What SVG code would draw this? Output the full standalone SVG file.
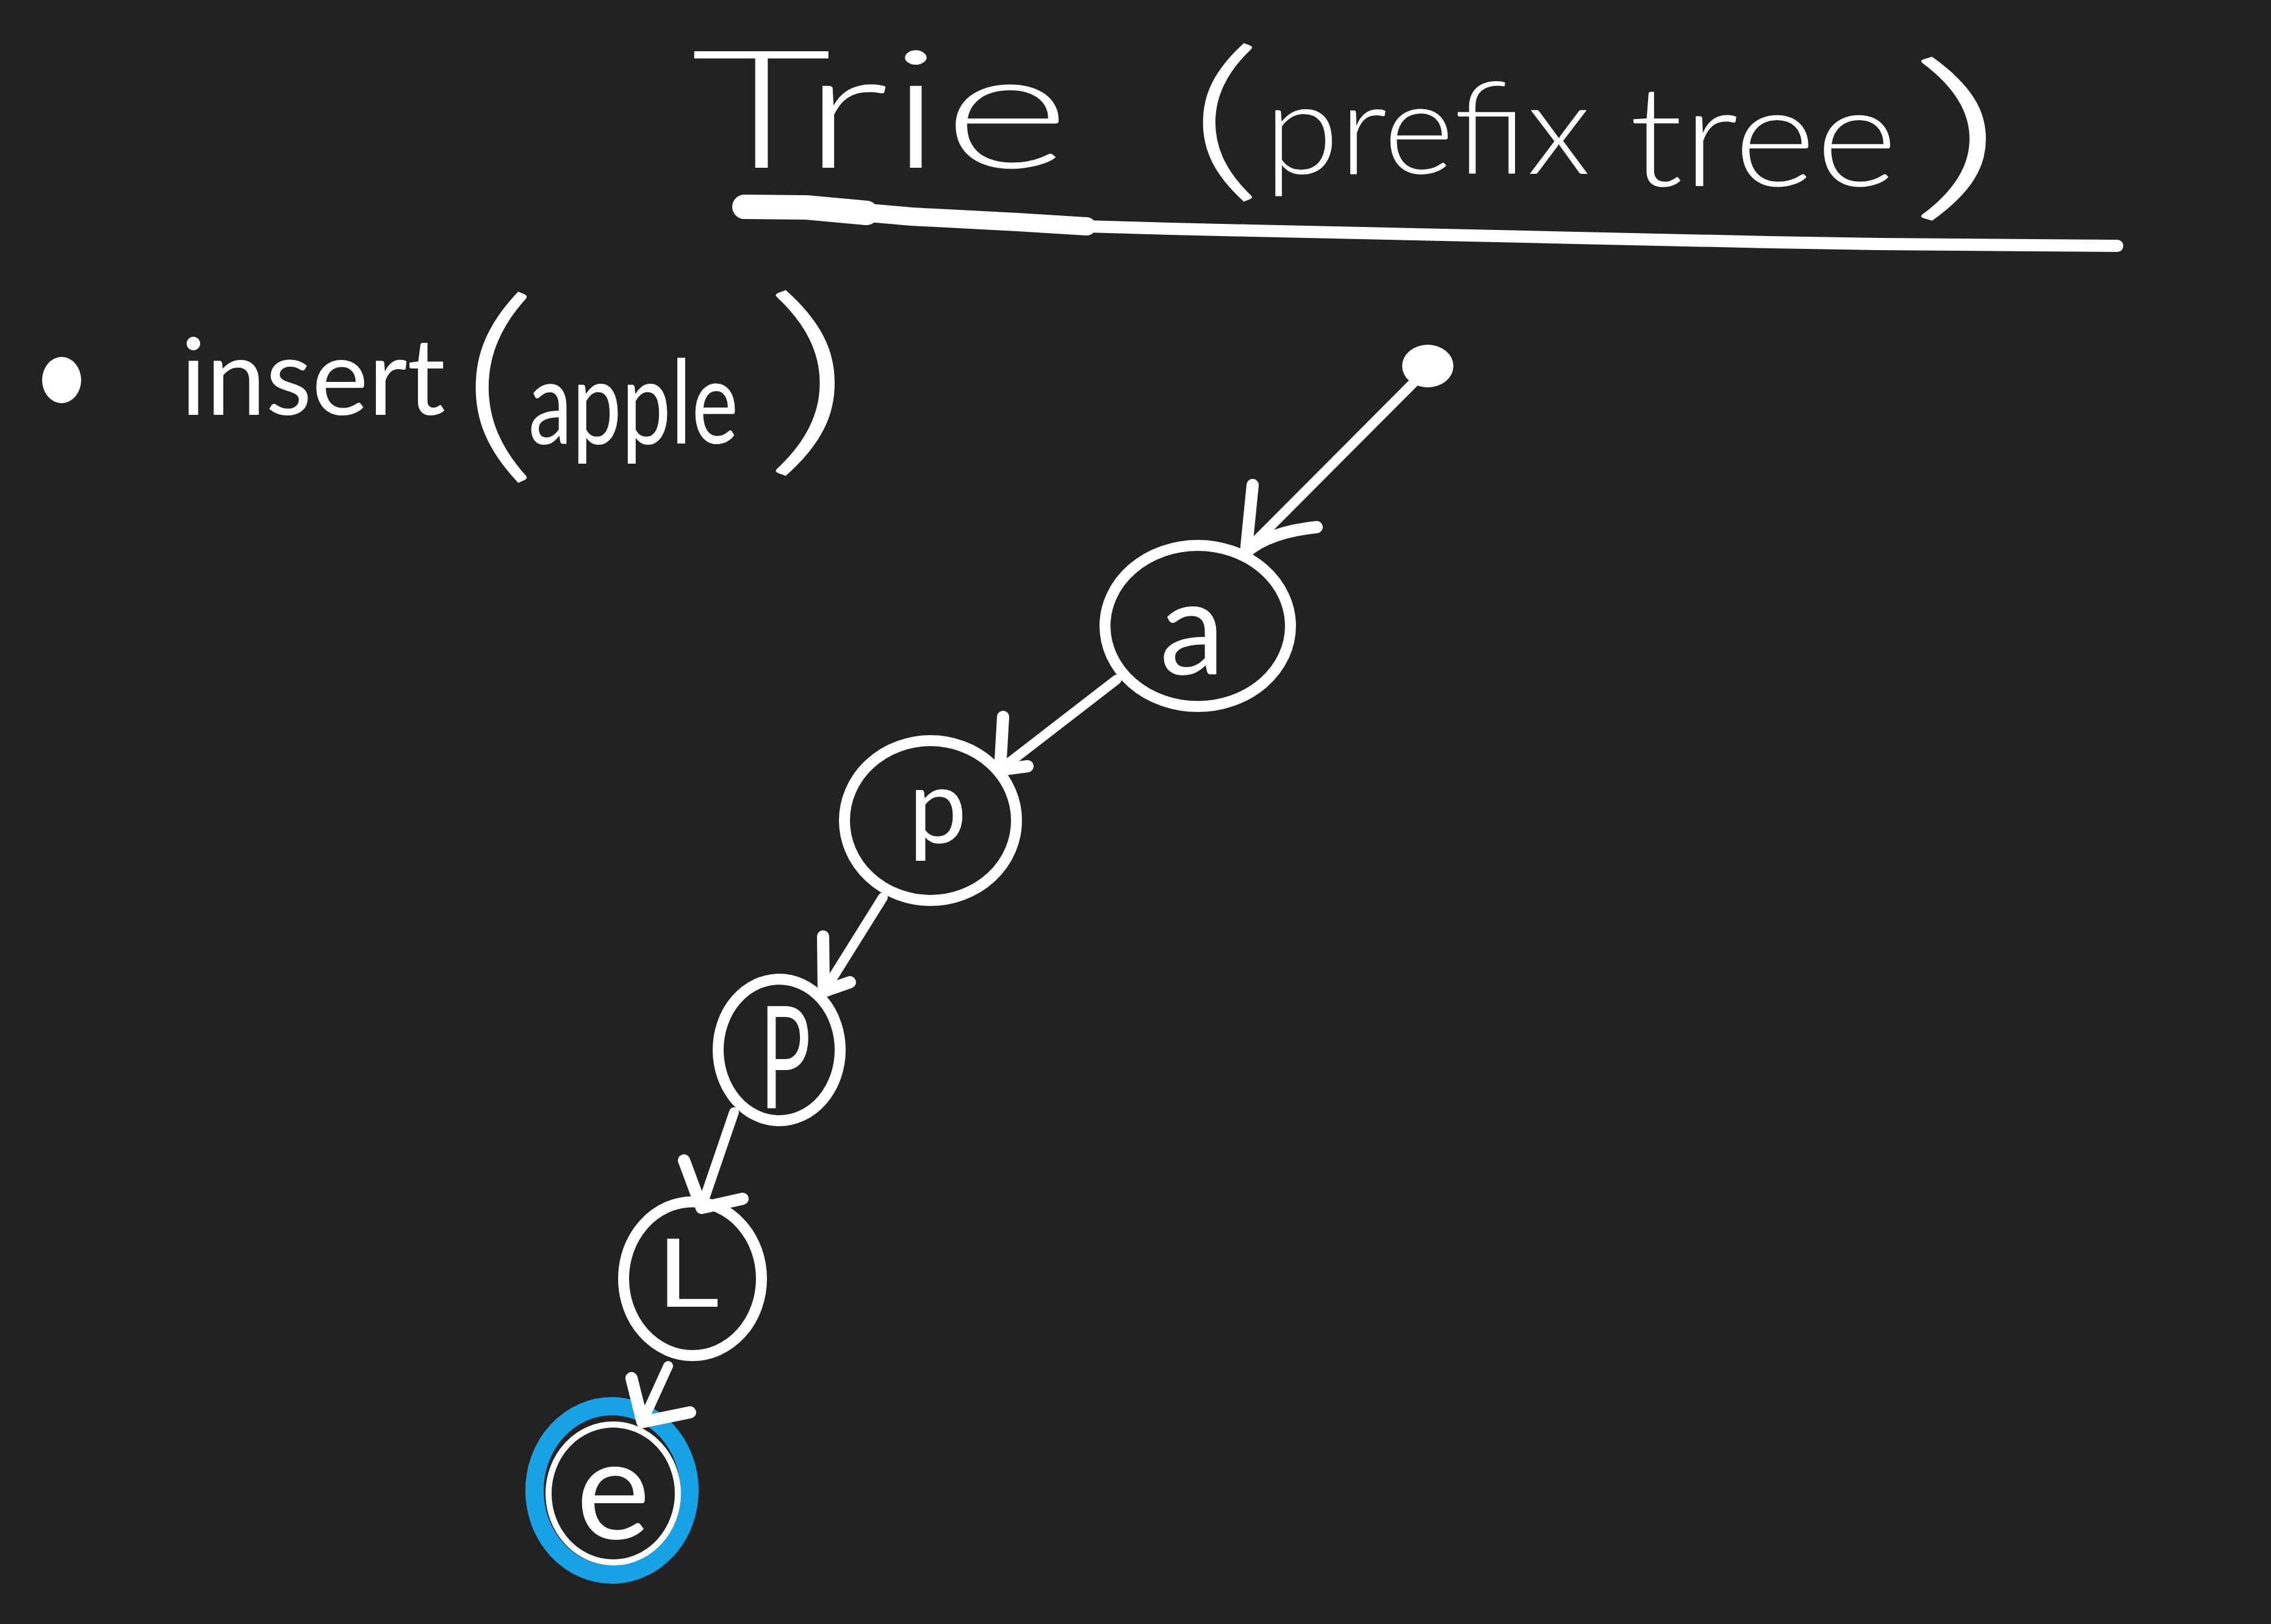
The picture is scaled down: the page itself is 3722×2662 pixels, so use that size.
<svg xmlns="http://www.w3.org/2000/svg" width="3722" height="2662" viewBox="0 0 3722 2662">
<style>
.bg{fill:#222222}
.hand{fill:#ffffff;font-family:Lato,"Liberation Sans","DejaVu Sans",sans-serif;font-weight:400}
.thin{font-weight:300}
.paren{font-weight:300}
.ring{fill:none;stroke:#ffffff;stroke-width:18}
.edge{fill:none;stroke:#ffffff;stroke-width:16;stroke-linecap:round;stroke-linejoin:round}
.head{fill:none;stroke:#ffffff;stroke-width:20;stroke-linecap:round;stroke-linejoin:round}
.uline{fill:none;stroke:#ffffff;stroke-linecap:round;stroke-linejoin:round}
.blue{fill:none;stroke:#17a2e6;stroke-width:30}
</style>
<rect class="bg" x="0" y="0" width="3722" height="2662"/>

<g id="title">
  <text class="hand thin" x="1132" y="275" font-size="270" textLength="622" lengthAdjust="spacingAndGlyphs">Trie</text>
  <text class="hand paren" x="1945" y="292" font-size="290" textLength="125" lengthAdjust="spacingAndGlyphs">(</text>
  <text class="hand thin" x="2072" y="285" font-size="210" textLength="535" lengthAdjust="spacingAndGlyphs">prefix</text>
  <text class="hand thin" x="2670" y="305" font-size="230" textLength="440" lengthAdjust="spacingAndGlyphs">tree</text>
  <text class="hand paren" x="3125" y="322" font-size="300" textLength="165" lengthAdjust="spacingAndGlyphs">)</text>
  <path class="uline" stroke-width="20" d="M1215,339 L1322,340 L1494,355 L1667,364 L1781,371 L1919,375 L2050,378 L2500,388 L2900,397 L3080,400 L3470,403"/>
  <path class="uline" stroke-width="30" d="M1218,339 L1322,340 L1494,355 L1667,364 L1781,371"/>
  <path class="uline" stroke-width="40" d="M1220,339 L1322,340 L1420,349"/>
</g>

<g id="insert-label">
  <ellipse cx="101" cy="623" rx="32" ry="38" fill="#ffffff"/>
  <text class="hand" x="296" y="680" font-size="175" textLength="434" lengthAdjust="spacingAndGlyphs">insert</text>
  <text class="hand paren" x="752" y="745" font-size="350" textLength="130" lengthAdjust="spacingAndGlyphs">(</text>
  <text class="hand" transform="translate(866,727) scale(0.76,1)" font-size="190">apple</text>
  <text class="hand paren" x="1250" y="735" font-size="340" textLength="150" lengthAdjust="spacingAndGlyphs">)</text>
</g>

<g id="root">
  <ellipse cx="2340" cy="600" rx="42" ry="35" fill="#ffffff"/>
</g>

<g id="node-a">
  <ellipse class="ring" cx="1963" cy="1026" rx="152" ry="132"/>
  <text class="hand" x="1954" y="1105" font-size="215" text-anchor="middle">a</text>
</g>

<g id="node-p1">
  <ellipse class="ring" cx="1525" cy="1345" rx="141" ry="131"/>
  <text class="hand" x="1537" y="1382" font-size="170" text-anchor="middle">p</text>
</g>

<g id="node-p2">
  <ellipse class="ring" cx="1277" cy="1721" rx="100" ry="116"/>
  <text class="hand" transform="translate(1287,1817) scale(0.6,1)" font-size="233" text-anchor="middle">P</text>
</g>

<g id="node-l">
  <ellipse class="ring" cx="1135" cy="2096" rx="113" ry="126"/>
  <text class="hand" transform="translate(1075,2142) scale(1.3,1)" font-size="156">L</text>
</g>

<g id="node-e">
  <ellipse class="blue" cx="1003" cy="2443" rx="127" ry="138"/>
  <ellipse fill="none" stroke="#ffffff" stroke-width="10" cx="1005" cy="2448" rx="106" ry="113"/>
  <text class="hand" x="1005" y="2522" font-size="230" text-anchor="middle">e</text>
</g>

<g id="connectors">
  <path class="edge" d="M2317,627 L2042,903"/>
  <path class="head" d="M2053,795 L2042,905 Q2080,872 2158,864"/>
  <path class="edge" d="M1830,1114 L1641,1260"/>
  <path class="head" d="M1644,1175 L1639,1262 L1684,1256"/>
  <path class="edge" d="M1447,1471 L1352,1623"/>
  <path class="head" d="M1349,1535 L1350,1625 L1393,1610"/>
  <path class="edge" d="M1203,1823 L1150,1978"/>
  <path class="head" d="M1121,1902 L1150,1980 L1217,1965"/>
  <path class="edge" d="M1095,2239 L1054,2329"/>
  <path class="head" d="M1035,2259 L1053,2331 L1131,2315"/>
</g>
</svg>
